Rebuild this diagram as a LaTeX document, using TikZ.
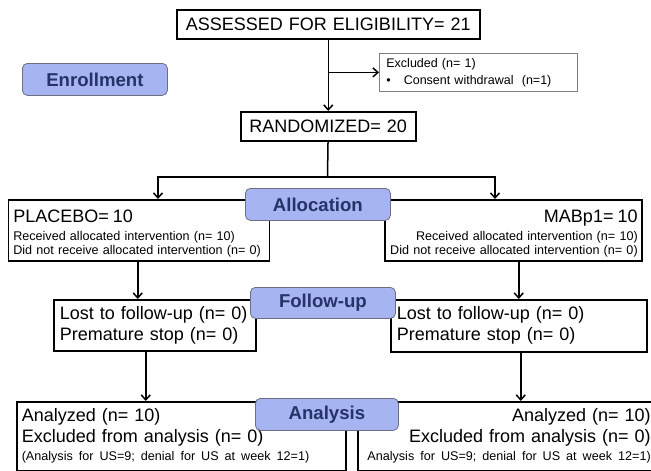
\documentclass[tikz,border=0pt]{standalone}
\usepackage{fontspec}
\setmainfont{Liberation Sans}
\usetikzlibrary{calc,arrows.meta}

\definecolor{stagefill}{RGB}{166,180,242}
\definecolor{stageline}{RGB}{110,110,130}
\definecolor{stagetext}{RGB}{38,50,104}
\newcommand\bigtxt{\fontsize{18}{21}\selectfont}
\newcommand\smalltxt{\fontsize{12.6}{14}\selectfont}

\tikzset{
  box/.style={draw, line width=1.5pt, fill=white, inner xsep=5pt, inner ysep=0pt,
    anchor=north west, font=\bigtxt},
  exclbox/.style={draw=gray, line width=0.8pt, fill=white, inner xsep=7pt, inner ysep=0pt,
    anchor=north west, font=\smalltxt, align=left},
  stage/.style={draw=stageline, fill=stagefill, line width=0.8pt, rounded corners=5pt,
    anchor=north west, text=stagetext, font=\fontsize{18.6}{21}\selectfont\bfseries},
  flow/.style={-{Straight Barb[length=5pt,width=9pt]}, line width=1.5pt}
}

\begin{document}
\begin{tikzpicture}[x=1pt,y=-1pt]
  \useasboundingbox (0,0) rectangle (651,471);

  % enrollment
  \node[box, text width=293pt, minimum height=29pt, align=center] (assess) at (176,9)
    {ASSESSED FOR ELIGIBILITY= 21};
  \node[exclbox, text width=184pt, minimum height=38pt, font=\fontsize{12.5}{14}\selectfont] (excl) at (379,53)
    {Excluded (n= 1)\\[3pt]\textbullet\hspace{13pt}Consent withdrawal~~(n=1)};
  \node[box, text width=165pt, minimum height=29pt, align=center] (rand) at (240,111)
    {RANDOMIZED= 20};

  % allocation
  \node[box, text width=251pt, minimum height=61pt, align=left, font=\smalltxt] (placebo) at (7.5,199)
    {\rule{0pt}{19pt}{\bigtxt PLACEBO= 10}\\[4pt]Received allocated intervention (n= 10)\\Did not receive allocated intervention (n= 0)};
  \node[box, text width=249pt, minimum height=61pt, align=right, inner xsep=4pt, font=\smalltxt] (mab) at (384,199)
    {\rule{0pt}{19pt}{\bigtxt MABp1= 10}\\[4pt]Received allocated intervention (n= 10)\\Did not receive allocated intervention (n= 0)};

  % follow-up
  \node[box, text width=190pt, minimum height=51pt, align=left, inner xsep=6pt] (followL) at (53,299)
    {Lost to follow-up (n= 0)\\Premature stop (n= 0)};
  \node[box, text width=244pt, minimum height=52pt, align=left, inner xsep=6pt] (followR) at (390,299)
    {Lost to follow-up (n= 0)\\Premature stop (n= 0)};

  % analysis
  \node[box, text width=319pt, minimum height=69pt, align=left] (analysisL) at (16,401)
    {Analyzed (n= 10)\\Excluded from analysis (n= 0)\\[-3pt]{\smalltxt\makebox[316pt][s]{(Analysis for US=9; denial for US at week 12=1)}}};
  \node[box, text width=289pt, minimum height=69pt, align=right, inner xsep=4pt] (analysisR) at (357,401)
    {Analyzed (n= 10)\\Excluded from analysis (n= 0)\\[-3pt]{\smalltxt Analysis for US=9; denial for US at week 12=1)}};

  % connectors
  \coordinate (fork) at (327.5,177);
  \coordinate (dropL) at (158,199);
  \coordinate (dropR) at (495,199);
  \draw[flow] (assess) -- (rand);
  \draw[flow] (assess.south |- excl.west) -- (excl.west);
  \draw[line width=1.5pt] (rand) -- (fork);
  \draw[flow] (fork) -| (dropL);
  \draw[flow] (fork) -| (dropR);
  \draw[flow] ([xshift=-1pt]placebo.south) -- ([xshift=-1pt]placebo.south |- followL.north);
  \draw[flow] (mab.south -| followR.north) -- (followR.north);
  \draw[flow] ([xshift=-9pt]followL.south) -- ([xshift=-9pt]followL.south |- analysisL.north);
  \draw[flow] ([xshift=2pt]followR.south) -- ([xshift=2pt]followR.south |- analysisR.north);

  % stage labels
  \node[stage, minimum width=145pt, minimum height=32pt] (enroll) at (22,63) {Enrollment};
  \node[stage, minimum width=145pt, minimum height=32pt] (alloc) at (245,188) {Allocation};
  \node[stage, minimum width=145pt, minimum height=31pt] (follow) at (250,287) {Follow-up};
  \node[stage, minimum width=143pt, minimum height=32pt] (analysis) at (255,398) {Analysis};
\end{tikzpicture}
\end{document}
